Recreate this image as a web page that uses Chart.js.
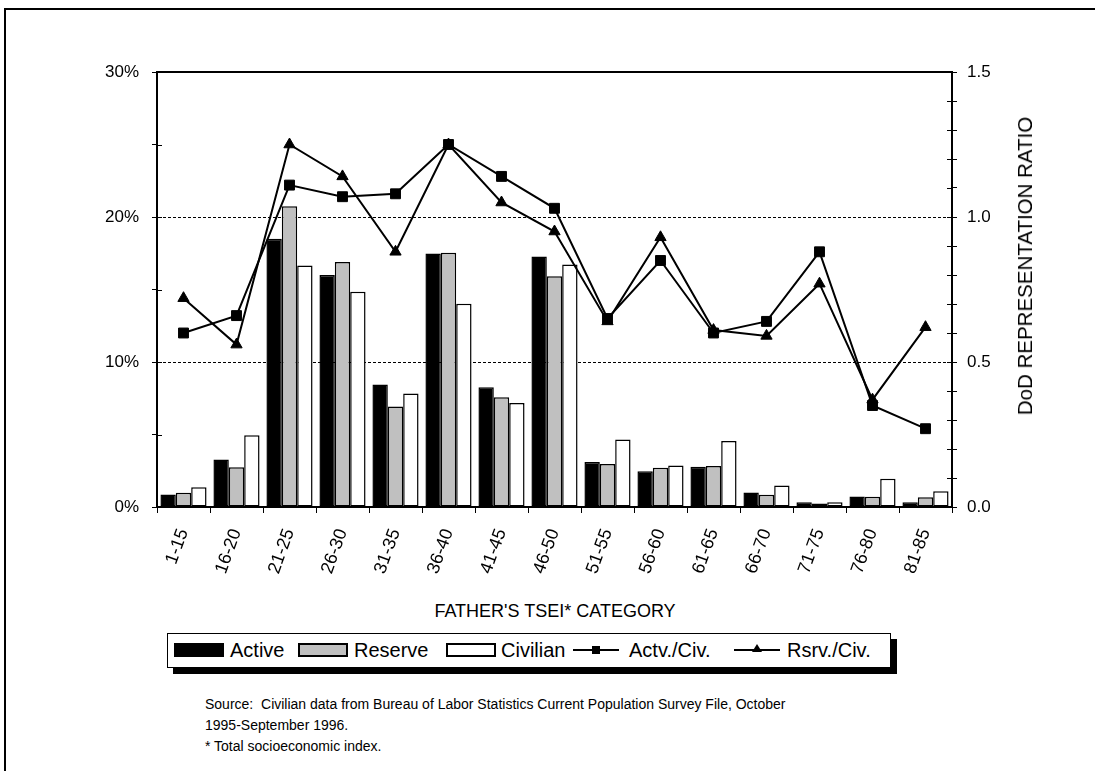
<!DOCTYPE html>
<html>
<head>
<meta charset="utf-8">
<script src="https://cdn.jsdelivr.net/npm/chart.js@4.4.1/dist/chart.umd.min.js"></script>
<style>
  html, body { margin: 0; padding: 0; background: #fff; overflow: hidden; font-family: "Liberation Sans", Arial, sans-serif; }
  #page { position: relative; width: 1095px; height: 771px; overflow: hidden; }
  #frameTop { position: absolute; left: 4px; top: 8px; width: 1091px; height: 2px; background: #000; }
  #frameLeft { position: absolute; left: 4px; top: 8px; width: 2px; height: 763px; background: #000; }
  #chartBox { position: absolute; left: 0; top: 0; width: 1095px; height: 600px; }
  .txt { position: absolute; color: #000; white-space: nowrap; }
  #xTitle { left: 355px; width: 400px; top: 601px; text-align: center; font-size: 18px; }
  #yTitle { left: 1025px; top: 266px; font-size: 20.5px; transform: translate(-50%, -50%) rotate(-90deg); }
  #legend { position: absolute; left: 167px; top: 633px; width: 722px; height: 33px; border: 1px solid #000;
            background: #fff; box-shadow: 6px 6px 0 #000; }
  .sw { position: absolute; box-sizing: border-box; }
  .lg { position: absolute; top: 5px; font-size: 20px; }
  #source { left: 205px; top: 694px; font-size: 14px; line-height: 21px; }
</style>
</head>
<body>
<div id="page">
  <div id="frameTop"></div>
  <div id="frameLeft"></div>
  <div id="chartBox"><canvas id="chart" width="1095" height="600"></canvas></div>
  <div class="txt" id="xTitle">FATHER'S TSEI* CATEGORY</div>
  <div class="txt" id="yTitle">DoD REPRESENTATION RATIO</div>
  <div id="legend"></div>
  <div class="txt" id="source">Source:&nbsp; Civilian data from Bureau of Labor Statistics Current Population Survey File, October<br>1995-September 1996.<br>* Total socioeconomic index.</div>
</div>
<script>
// categories (father's TSEI score bands)
const categories = ['1-15', '16-20', '21-25', '26-30', '31-35', '36-40', '41-45', '46-50',
                    '51-55', '56-60', '61-65', '66-70', '71-75', '76-80', '81-85'];

// percent of each group (left axis)
const activePct   = [0.86, 3.28, 18.5, 16.0, 8.45, 17.48, 8.26, 17.28, 3.11, 2.47, 2.77, 1.0, 0.33, 0.72, 0.33];
const reservePct  = [0.98, 2.75, 20.75, 16.9, 6.93, 17.53, 7.57, 15.92, 2.97, 2.70, 2.82, 0.84, 0.24, 0.70, 0.68];
const civilianPct = [1.37, 4.95, 16.66, 14.84, 7.83, 14.01, 7.18, 16.72, 4.65, 2.86, 4.56, 1.48, 0.33, 1.94, 1.09];

// representation ratios (right axis)
const actvCivRatio = [0.60, 0.66, 1.11, 1.07, 1.08, 1.25, 1.14, 1.03, 0.65, 0.85, 0.60, 0.64, 0.88, 0.35, 0.27];
const rsrvCivRatio = [0.72, 0.56, 1.25, 1.14, 0.88, 1.25, 1.05, 0.95, 0.64, 0.93, 0.61, 0.59, 0.77, 0.37, 0.62];

const FONT = 'Liberation Sans, Arial, sans-serif';

function barSet(label, data, fill) {
  return {
    type: 'bar', label: label, data: data, yAxisID: 'y', order: 2,
    backgroundColor: fill, borderColor: '#000', borderWidth: 1.5, borderSkipped: false,
    categoryPercentage: 0.87, barPercentage: 1.0
  };
}
function lineSet(label, data, style, r) {
  return {
    type: 'line', label: label, data: data, yAxisID: 'y1', order: 1,
    borderColor: '#000', borderWidth: 2, tension: 0, fill: false,
    pointStyle: style, pointRadius: r, pointBackgroundColor: '#000', pointBorderColor: '#000', pointBorderWidth: 1
  };
}

// the original's y-axis tick marks cross the axis line: draw the inner half
const innerTicks = {
  id: 'innerTicks',
  afterDraw(chart) {
    const ctx = chart.ctx;
    ctx.save();
    ctx.strokeStyle = '#000';
    ctx.lineWidth = 1;
    ['y', 'y1'].forEach(id => {
      const s = chart.scales[id];
      const x = id === 'y' ? chart.chartArea.left : chart.chartArea.right;
      const dir = id === 'y' ? 1 : -1;
      s.ticks.forEach((t, i) => {
        const py = Math.round(s.getPixelForTick(i)) + 0.5;
        ctx.beginPath();
        ctx.moveTo(x, py);
        ctx.lineTo(x + dir * 5, py);
        ctx.stroke();
      });
    });
    ctx.restore();
  }
};

new Chart(document.getElementById('chart').getContext('2d'), {
  type: 'bar',
  data: {
    labels: categories,
    datasets: [
      barSet('Active', activePct, '#000'),
      barSet('Reserve', reservePct, '#c0c0c0'),
      barSet('Civilian', civilianPct, '#fff'),
      lineSet('Actv./Civ.', actvCivRatio, 'rect', 7),
      lineSet('Rsrv./Civ.', rsrvCivRatio, 'triangle', 6.5)
    ]
  },
  plugins: [innerTicks],
  options: {
    responsive: false,
    devicePixelRatio: 1,
    animation: false,
    layout: { padding: { top: 72, left: 0, right: 0, bottom: 0 } },
    plugins: { legend: { display: false }, tooltip: { enabled: false } },
    scales: {
      x: {
        offset: true,
        grid: { offset: true, drawOnChartArea: false, tickLength: 6, color: '#000', lineWidth: 1 },
        border: { color: '#000', width: 2 },
        ticks: { minRotation: 70, maxRotation: 70, padding: 13, color: '#000', font: { family: FONT, size: 18 } },
        afterFit: s => { s.height = 93; }
      },
      x2: {
        type: 'category', position: 'top',
        grid: { display: false, drawTicks: false },
        ticks: { display: false },
        border: { color: '#000', width: 2 },
        afterFit: s => { s.height = 0; }
      },
      y: {
        position: 'left', min: 0, max: 30,
        ticks: {
          stepSize: 5, padding: 13, color: '#000', font: { family: FONT, size: 17 },
          callback: v => (v % 10 === 0 ? v + '%' : '')
        },
        grid: {
          color: c => (c.tick && (c.tick.value === 10 || c.tick.value === 20)) ? '#000' : 'rgba(0,0,0,0)',
          tickColor: '#000', tickLength: 5, lineWidth: 1
        },
        border: { color: '#000', width: 2, dash: [3, 2] },
        afterFit: s => { s.width = 157; }
      },
      y1: {
        position: 'right', min: 0, max: 1.5,
        ticks: {
          stepSize: 0.1, padding: 10, color: '#000', font: { family: FONT, size: 17 },
          callback: v => (Math.abs(v * 2 - Math.round(v * 2)) < 1e-6 ? v.toFixed(1) : '')
        },
        grid: { drawOnChartArea: false, tickColor: '#000', tickLength: 5 },
        border: { color: '#000', width: 2 },
        afterFit: s => { s.width = 143; }
      }
    }
  }
});

// legend drawn as plain HTML, swatches match the datasets
const legend = document.getElementById('legend');
const legendItems = [
  { kind: 'box', fill: '#000', x: 6, text: 'Active', tx: 62 },
  { kind: 'box', fill: '#c0c0c0', x: 130, text: 'Reserve', tx: 186 },
  { kind: 'box', fill: '#fff', x: 278, text: 'Civilian', tx: 333 },
  { kind: 'rect', x: 405, text: 'Actv./Civ.', tx: 461 },
  { kind: 'tri', x: 566, text: 'Rsrv./Civ.', tx: 619 }
];
legendItems.forEach(it => {
  if (it.kind === 'box') {
    const d = document.createElement('div');
    d.className = 'sw';
    d.style.cssText = `left:${it.x}px;top:9px;width:50px;height:14px;background:${it.fill};border:2px solid #000;`;
    legend.appendChild(d);
  } else {
    const ln = document.createElement('div');
    ln.className = 'sw';
    ln.style.cssText = `left:${it.x}px;top:15px;width:46px;height:2px;background:#000;`;
    legend.appendChild(ln);
    const m = document.createElement('div');
    m.className = 'sw';
    if (it.kind === 'rect') {
      m.style.cssText = `left:${it.x + 19}px;top:12px;width:8px;height:8px;background:#000;`;
    } else {
      m.style.cssText = `left:${it.x + 18}px;top:10px;width:0;height:0;border-left:5px solid transparent;border-right:5px solid transparent;border-bottom:8px solid #000;`;
    }
    legend.appendChild(m);
  }
  const t = document.createElement('div');
  t.className = 'lg';
  t.style.left = it.tx + 'px';
  t.textContent = it.text;
  legend.appendChild(t);
});
</script>
</body>
</html>
